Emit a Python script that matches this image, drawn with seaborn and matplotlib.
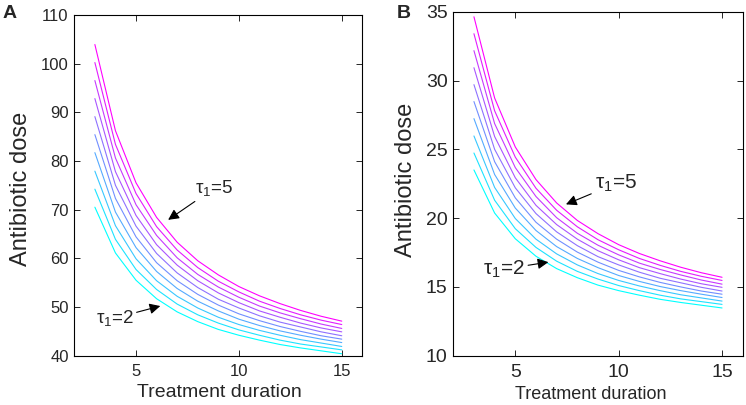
import numpy as np
import pandas as pd
import matplotlib
matplotlib.use("Agg")
import matplotlib.pyplot as plt
import seaborn as sns

# treatment durations (x) shared by both panels
duration = [3, 4, 5, 6, 7, 8, 9, 10, 11, 12, 13, 14, 15]

# panel A: antibiotic dose, one list per curve (cyan -> magenta)
dose_a = [
    [70.5, 61.1, 55.5, 51.7, 49.0, 47.0, 45.4, 44.2, 43.2, 42.3, 41.6, 41.0, 40.4],
    [74.2, 63.9, 57.7, 53.6, 50.6, 48.4, 46.7, 45.3, 44.2, 43.2, 42.4, 41.8, 41.2],
    [77.9, 66.7, 59.9, 55.4, 52.2, 49.8, 47.9, 46.4, 45.2, 44.2, 43.3, 42.6, 41.9],
    [81.7, 69.5, 62.2, 57.3, 53.8, 51.2, 49.2, 47.5, 46.2, 45.1, 44.2, 43.4, 42.7],
    [85.4, 72.3, 64.4, 59.1, 55.4, 52.6, 50.4, 48.6, 47.2, 46.0, 45.0, 44.1, 43.4],
    [89.1, 75.0, 66.6, 61.0, 57.0, 54.0, 51.6, 49.8, 48.2, 46.9, 45.9, 44.9, 44.1],
    [92.8, 77.8, 68.8, 62.8, 58.6, 55.4, 52.9, 50.9, 49.2, 47.9, 46.7, 45.7, 44.9],
    [96.5, 80.6, 71.0, 64.7, 60.1, 56.7, 54.1, 52.0, 50.2, 48.8, 47.6, 46.5, 45.6],
    [100.2, 83.4, 73.3, 66.5, 61.7, 58.1, 55.3, 53.1, 51.2, 49.7, 48.4, 47.3, 46.4],
    [103.9, 86.2, 75.5, 68.4, 63.3, 59.5, 56.6, 54.2, 52.3, 50.7, 49.3, 48.1, 47.1],
]

# panel B
dose_b = [
    [23.50, 20.37, 18.50, 17.23, 16.33, 15.67, 15.13, 14.73, 14.40, 14.10, 13.87, 13.67, 13.47],
    [24.73, 21.30, 19.23, 17.87, 16.87, 16.13, 15.57, 15.10, 14.73, 14.40, 14.13, 13.93, 13.73],
    [25.97, 22.23, 19.97, 18.47, 17.40, 16.60, 15.97, 15.47, 15.07, 14.73, 14.43, 14.20, 13.97],
    [27.23, 23.17, 20.73, 19.10, 17.93, 17.07, 16.40, 15.83, 15.40, 15.03, 14.73, 14.47, 14.23],
    [28.47, 24.10, 21.47, 19.70, 18.47, 17.53, 16.80, 16.20, 15.73, 15.33, 15.00, 14.70, 14.47],
    [29.70, 25.00, 22.20, 20.33, 19.00, 18.00, 17.20, 16.60, 16.07, 15.63, 15.30, 14.97, 14.70],
    [30.93, 25.93, 22.93, 20.93, 19.53, 18.47, 17.63, 16.97, 16.40, 15.97, 15.57, 15.23, 14.97],
    [32.17, 26.87, 23.67, 21.57, 20.03, 18.90, 18.03, 17.33, 16.73, 16.27, 15.87, 15.50, 15.20],
    [33.40, 27.80, 24.43, 22.17, 20.57, 19.37, 18.43, 17.70, 17.07, 16.57, 16.13, 15.77, 15.47],
    [34.63, 28.73, 25.17, 22.80, 21.10, 19.83, 18.87, 18.07, 17.43, 16.90, 16.43, 16.03, 15.70],
]

yticks_a = [40, 50, 60, 70, 80, 90, 100, 110]
yticks_b = [10, 15, 20, 25, 30, 35]
xticks = [5, 10, 15]

sns.set_style("ticks")
plt.rcParams['font.family'] = ['Liberation Sans', 'DejaVu Sans']
plt.rcParams['mathtext.fontset'] = 'custom'
plt.rcParams['mathtext.rm'] = 'Liberation Sans'
plt.rcParams['mathtext.it'] = 'Liberation Sans'


def to_long(curves):
    rows = []
    for i, ys in enumerate(curves):
        for x, y in zip(duration, ys):
            rows.append((i, x, y))
    return pd.DataFrame(rows, columns=['curve', 'duration', 'dose'])


cmap = plt.get_cmap('cool')
colors = [cmap(v) for v in np.linspace(0, 1, len(dose_a))]

fig = plt.figure(figsize=(7.46, 4.05), dpi=100)
ax_a = fig.add_axes([0.0996, 0.1217, 0.3861, 0.8417])
ax_b = fig.add_axes([0.6076, 0.1217, 0.3880, 0.8494])

# axis, curves, ylim, yticks, tick size, xlabel size, ylabel size
panels = [
    (ax_a, dose_a, (40, 110), yticks_a, 12, 14, 17),
    (ax_b, dose_b, (10, 35), yticks_b, 14, 13, 17),
]
for ax, curves, ylim, yt, tick_fs, xlab_fs, ylab_fs in panels:
    sns.lineplot(data=to_long(curves), x='duration', y='dose', hue='curve',
                 palette=colors, legend=False, lw=0.8, ax=ax)
    ax.set_xlim(2, 16)
    ax.set_ylim(*ylim)
    ax.set_xticks(xticks)
    ax.set_yticks(yt)
    ax.tick_params(direction='in', top=True, right=True, length=4, width=0.7,
                   labelsize=tick_fs, pad=4)
    ax.tick_params(axis='x', pad=6)
    for s in ax.spines.values():
        s.set_linewidth(0.8)
        s.set_color('black')
    ax.set_xlabel('Treatment duration', fontsize=xlab_fs)
    ax.set_ylabel('Antibiotic dose', fontsize=ylab_fs)

ax_a.xaxis.set_label_coords(0.504, -0.084)
ax_a.yaxis.set_label_coords(-0.147, 0.49)
ax_b.xaxis.set_label_coords(0.476, -0.088)
ax_b.yaxis.set_label_coords(-0.125, 0.51)

arrow = dict(arrowstyle='-|>', color='black', lw=0.8, mutation_scale=16,
             shrinkA=0, shrinkB=0)
ax_a.annotate(r'τ$_1$=5', xy=(6.56, 67.9), xytext=(8.8, 74.4), fontsize=13.5,
              ha='center', va='center', arrowprops=arrow)
ax_a.annotate(r'τ$_1$=2', xy=(6.18, 50.2), xytext=(3.95, 47.7), fontsize=13.5,
              ha='center', va='center', arrowprops=arrow)
ax_b.annotate(r'τ$_1$=5', xy=(7.45, 21.0), xytext=(9.85, 22.5), fontsize=15,
              ha='center', va='center', arrowprops=arrow)
ax_b.annotate(r'τ$_1$=2', xy=(6.6, 16.8), xytext=(4.45, 16.3), fontsize=15,
              ha='center', va='center', arrowprops=arrow)

fig.text(10 / 746, 1 - 14 / 405, 'A', ha='center', va='center',
         fontsize=14, fontweight='bold')
fig.text(404 / 746, 1 - 14 / 405, 'B', ha='center', va='center',
         fontsize=14, fontweight='bold')

fig.savefig('out.png', dpi=100)
